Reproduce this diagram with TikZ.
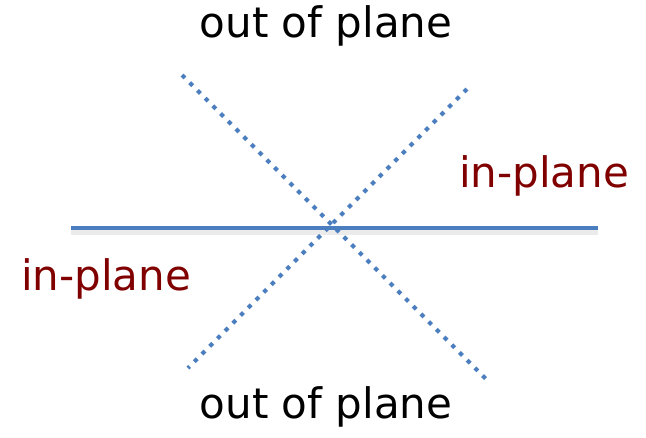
\documentclass[tikz,border=0pt]{standalone}
\usepackage{fontspec}
\setmainfont{DejaVu Sans}
\definecolor{lineblue}{HTML}{4A7EBF}
\definecolor{labelred}{HTML}{800000}
\begin{document}
\begin{tikzpicture}[x=1pt,y=-1pt,
  lbl/.style={font=\fontsize{42}{48}\selectfont, anchor=base, inner sep=0pt},
  outlbl/.style={lbl, text=black},
  inlbl/.style={lbl, text=labelred},
  solidline/.style={draw=lineblue, line width=4.8pt},
  dotline/.style={draw=lineblue, line width=4.2pt, dash pattern=on 4.2pt off 6.7pt},
  shadowline/.style={draw=black!8, line width=6pt}]
\useasboundingbox (0,0) rectangle (646,437);
\coordinate (h1) at (71,228);
\coordinate (h2) at (598,228);
\coordinate (d1a) at (182,75);
\coordinate (d1b) at (486,379);
\coordinate (d2a) at (467,89);
\coordinate (d2b) at (188,368);
\draw[shadowline] ([yshift=-4]h1) -- ([yshift=-4]h2);
\draw[solidline] (h1) -- (h2);
\draw[dotline] (d1a) -- (d1b);
\draw[dotline] (d2a) -- (d2b);
\node[outlbl] (top) at (326,37) {out of plane};
\node[outlbl] (bot) at (326,418) {out of plane};
\node[inlbl] (inr) at (544,187) {in-plane};
\node[inlbl] (inl) at (106,290) {in-plane};
\end{tikzpicture}
\end{document}
